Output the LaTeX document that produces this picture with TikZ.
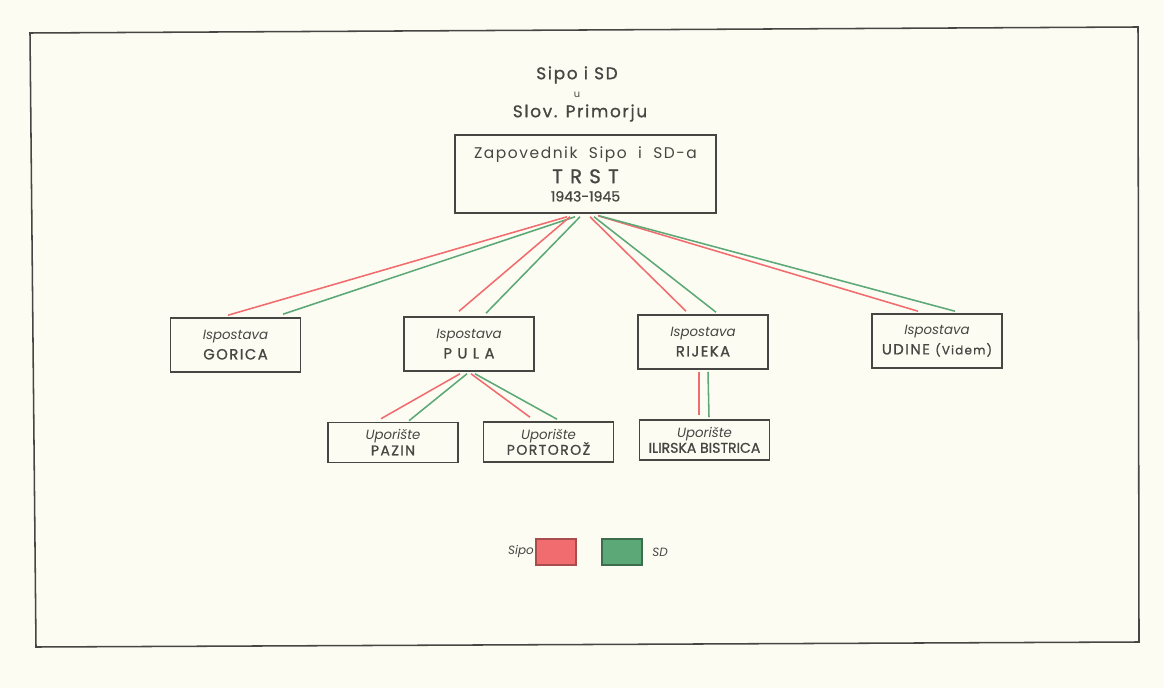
\documentclass[tikz,border=0pt]{standalone}
\usepackage{fontspec}
\setmainfont{Poppins}
\newfontfamily\spaced[LetterSpace=10,FakeBold=1]{Poppins}
\newfontfamily\solid[FakeBold=1]{Poppins}
\usetikzlibrary{calc}
\definecolor{paper}{RGB}{253,252,243}
\definecolor{ink}{RGB}{70,70,66}
\definecolor{sipo}{RGB}{240,108,110}
\definecolor{sd}{RGB}{92,168,118}
\tikzset{
  office/.style={draw=ink, line width=1.1pt, minimum width=3.25cm, minimum height=1.35cm,
    align=center, text=ink, inner sep=0pt},
  post/.style={office, minimum height=1cm},
  sipoline/.style={sipo, line width=1.1pt},
  sdline/.style={sd, line width=1.1pt}
}
\begin{document}
\begin{tikzpicture}[x=0.025cm,y=-0.025cm]
  \fill[paper] (0,0) rectangle (1164,688);
  \useasboundingbox (0,0) rectangle (1164,688);
  \draw[ink, line width=1.1pt] (30,33) -- (1138,27) -- (1139,642) -- (36,647) -- cycle;

  \node[text=ink, font=\spaced\fontsize{12}{14}\selectfont] (head) at (577,75) {Sipo i SD};
  \node[text=ink, font=\fontsize{7}{8}\selectfont] (u) at (577,95) {u};
  \node[text=ink, font=\spaced\fontsize{12}{14}\selectfont] (region) at (580,113) {Slov. Primorju};

  \node[office, minimum width=6.525cm, minimum height=1.95cm] (trst) at (585.5,174)
    {{\fontspec[LetterSpace=10]{Poppins}\fontsize{11}{13}\selectfont Zapovednik\ \ Sipo\ \ i\ \ SD-a}\\[4pt]
     {\spaced\fontsize{14}{15}\selectfont T R S T}\\[1pt]
     {\solid\fontsize{10}{11}\selectfont 1943-1945}};

  \node[office] (gorica) at (235.5,345) {{\itshape\fontsize{9.5}{11}\selectfont Ispostava}\\[2pt]{\spaced\fontsize{10.5}{12}\selectfont GORICA}};
  \node[office] (pula) at (469,344) {{\itshape\fontsize{9.5}{11}\selectfont Ispostava}\\[2pt]{\spaced\fontsize{10.5}{12}\selectfont P U L A}};
  \node[office] (rijeka) at (703,342) {{\itshape\fontsize{9.5}{11}\selectfont Ispostava}\\[2pt]{\spaced\fontsize{10.5}{12}\selectfont RIJEKA}};
  \node[office] (udine) at (937,341) {{\itshape\fontsize{9.5}{11}\selectfont Ispostava}\\[2pt]{\spaced\fontsize{10.5}{12}\selectfont UDINE {\fontsize{8.5}{10}\selectfont(Videm)}}};

  \node[post] (pazin) at (393,442.5) {{\itshape\fontsize{9.5}{11}\selectfont Uporište}\\[-1pt]{\spaced\fontsize{10}{12}\selectfont PAZIN}};
  \node[post] (portoroz) at (548.5,442) {{\itshape\fontsize{9.5}{11}\selectfont Uporište}\\[-1pt]{\spaced\fontsize{10}{12}\selectfont PORTOROŽ}};
  \node[post] (bistrica) at (704.5,440) {{\itshape\fontsize{9.5}{11}\selectfont Uporište}\\[-1pt]{\solid\fontsize{10}{12}\selectfont ILIRSKA BISTRICA}};

  \draw[sipoline] ($(trst.south)+(-18.5,3)$) -- ($(gorica.north)+(-7.5,-2)$);
  \draw[sdline] ($(trst.south)+(-10.5,3)$) -- ($(gorica.north)+(47.5,-3)$);
  \draw[sipoline] ($(trst.south)+(-15.5,3)$) -- ($(pula.north)+(-10,-5)$);
  \draw[sdline] ($(trst.south)+(-5.5,3)$) -- ($(pula.north)+(17,-3)$);
  \draw[sipoline] ($(trst.south)+(4.5,3)$) -- ($(rijeka.north)+(-17,-3)$);
  \draw[sdline] ($(trst.south)+(8.5,3)$) -- ($(rijeka.north)+(13,-2)$);
  \draw[sipoline] ($(trst.south)+(12.5,2)$) -- ($(udine.north)+(-19,-2)$);
  \draw[sdline] ($(trst.south)+(13.5,2)$) -- ($(udine.north)+(18,-2)$);

  \draw[sipoline] ($(pula.south)+(-9,2)$) -- ($(pazin.north)+(-12,-3)$);
  \draw[sdline] ($(pula.south)+(-2,2)$) -- ($(pazin.north)+(16,-1)$);
  \draw[sipoline] ($(pula.south)+(2,2)$) -- ($(portoroz.north)+(-18.5,-4)$);
  \draw[sdline] ($(pula.south)+(6,2)$) -- ($(portoroz.north)+(8.5,-2)$);
  \draw[sipoline] ($(rijeka.south)+(-4,2)$) -- ($(bistrica.north)+(-5.5,-4)$);
  \draw[sdline] ($(rijeka.south)+(5,2)$) -- ($(bistrica.north)+(4.5,-2)$);

  \node[draw=sipo!70!black, fill=sipo, line width=0.9pt, minimum width=1cm, minimum height=0.65cm] (sipokey) at (556,552) {};
  \node[draw=sd!65!black, fill=sd, line width=0.9pt, minimum width=1cm, minimum height=0.65cm] (sdkey) at (622,552) {};
  \node[text=ink, font=\itshape\fontsize{8.5}{10}\selectfont] (sipolabel) at (521,552) {Sipo};
  \node[text=ink, font=\itshape\fontsize{8.5}{10}\selectfont] (sdlabel) at (660,552) {SD};
\end{tikzpicture}
\end{document}
